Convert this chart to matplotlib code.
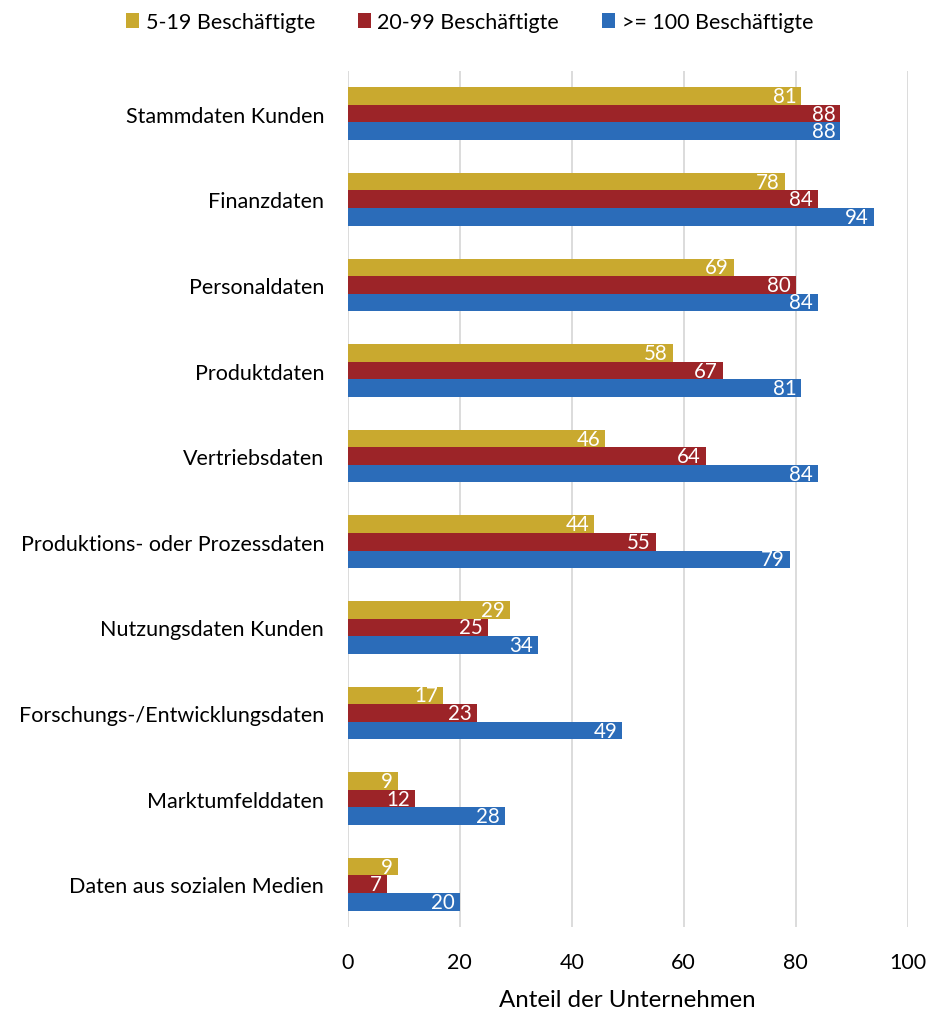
"""
Horizontal grouped bar chart: data types used by company size.
"""
import matplotlib
matplotlib.use("Agg")
import matplotlib.pyplot as plt
import numpy as np

plt.rcParams["font.family"] = ["Lato", "DejaVu Sans"]

# Data
categories = [
    "Stammdaten Kunden",
    "Finanzdaten",
    "Personaldaten",
    "Produktdaten",
    "Vertriebsdaten",
    "Produktions- oder Prozessdaten",
    "Nutzungsdaten Kunden",
    "Forschungs-/Entwicklungsdaten",
    "Marktumfelddaten",
    "Daten aus sozialen Medien",
]
small = [81, 78, 69, 58, 46, 44, 29, 17, 9, 9]
medium = [88, 84, 80, 67, 64, 55, 25, 23, 12, 7]
large = [88, 94, 84, 81, 84, 79, 34, 49, 28, 20]
series_labels = ["5-19 Beschäftigte", "20-99 Beschäftigte", ">= 100 Beschäftigte"]
x_ticks = [0, 20, 40, 60, 80, 100]

# Style
COLORS = ["#C9A92F", "#9C2428", "#2B6CB9"]
BAR_H = 0.205
FS = 15.5

fig = plt.figure(figsize=(9.3, 10.12), dpi=100)
ax = fig.add_axes([0.374, 0.083, 0.602, 0.846])

y = np.arange(len(categories))
offsets = [-BAR_H, 0, BAR_H]

for vals, off, color, lab in zip([small, medium, large], offsets, COLORS, series_labels):
    bars = ax.barh(y + off, vals, height=BAR_H, color=color, label=lab, zorder=2)
    for b, v in zip(bars, vals):
        ax.text(
            b.get_width() - 0.9, b.get_y() + b.get_height() / 2, f"{v}",
            color="white", fontsize=FS - 0.7, ha="right", va="center", zorder=3,
        )

ax.set_ylim(len(categories) - 0.5, -0.5)
ax.set_xlim(0, 100)
ax.set_xticks(x_ticks)
ax.set_yticks(y)
ax.set_yticklabels(categories, fontsize=FS)
ax.tick_params(axis="x", labelsize=FS, length=0, pad=18)
ax.tick_params(axis="y", length=0, pad=17)
ax.grid(True, axis="x", color="#D9D9D9", linewidth=1.3, zorder=0)
for s in ax.spines.values():
    s.set_visible(False)

ax.set_xlabel("Anteil der Unternehmen", fontsize=FS + 1.8, labelpad=12)

fig.legend(
    loc="upper center", bbox_to_anchor=(0.505, 1.006), ncol=3, frameon=False,
    fontsize=FS, handlelength=0.6, handleheight=0.7, handletextpad=0.3,
    columnspacing=2.0,
)

fig.savefig("out.png", dpi=100)
